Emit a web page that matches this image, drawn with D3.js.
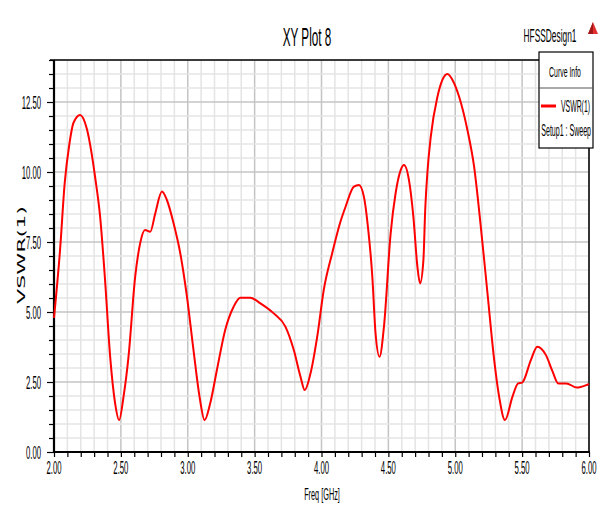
<!DOCTYPE html>
<html lang="en">
<head>
  <meta charset="UTF-8">
  <title>XY Plot 8</title>
  <script src="https://d3js.org/d3.v7.min.js"></script>
  <style>
    body { margin: 0; background: #fff; }
    svg text { font-family: "Liberation Sans", Arial, sans-serif; fill: #000; }
    .grid-minor { stroke: #e4e4e4; stroke-width: 1.5px; }
    .grid-major { stroke: #c4c4c4; stroke-width: 1.5px; }
    .curve { fill: none; stroke: #ff0000; stroke-width: 2px; }
  </style>
</head>
<body>
<div id="chart"></div>
<script>
  // VSWR(1) vs frequency
  var freq = [2.000, 2.045, 2.080, 2.115, 2.145, 2.195, 2.245, 2.280, 2.307, 2.345,
    2.380, 2.420, 2.457, 2.487, 2.520, 2.557, 2.607, 2.644, 2.680, 2.720,
    2.757, 2.807, 2.844, 2.894, 2.944, 2.994, 3.043, 3.088, 3.126, 3.168,
    3.218, 3.280, 3.343, 3.393, 3.468, 3.543, 3.643, 3.730, 3.793, 3.843,
    3.875, 3.918, 3.968, 4.017, 4.080, 4.142, 4.180, 4.242, 4.280, 4.317,
    4.347, 4.380, 4.404, 4.434, 4.467, 4.517, 4.554, 4.592, 4.617, 4.654,
    4.687, 4.717, 4.737, 4.762, 4.775, 4.792, 4.817, 4.867, 4.904, 4.942,
    4.979, 5.029, 5.091, 5.141, 5.191, 5.241, 5.291, 5.328, 5.372, 5.428,
    5.470, 5.500, 5.566, 5.613, 5.678, 5.728, 5.770, 5.830, 5.910, 5.980, 6.000];
  var vswr = [4.79, 7.20, 9.60, 11.00, 11.75, 12.04, 11.55, 10.70, 9.83, 8.40,
    6.26, 3.40, 1.74, 1.14, 1.98, 3.40, 6.26, 7.45, 7.93, 7.87,
    8.52, 9.30, 9.00, 8.17, 7.10, 5.55, 3.64, 1.98, 1.14, 1.74,
    2.93, 4.36, 5.19, 5.51, 5.51, 5.31, 4.95, 4.48, 3.64, 2.69,
    2.21, 2.81, 4.12, 5.79, 7.10, 8.23, 8.76, 9.48, 9.54, 9.12,
    8.05, 6.26, 4.24, 3.40, 4.48, 7.81, 9.24, 10.07, 10.25, 9.71,
    8.40, 6.62, 6.02, 6.86, 8.60, 10.00, 11.26, 12.69, 13.29, 13.50,
    13.29, 12.69, 11.50, 10.19, 8.05, 5.67, 3.29, 1.98, 1.14, 1.98,
    2.45, 2.48, 3.29, 3.76, 3.46, 2.87, 2.45, 2.45, 2.30, 2.39, 2.43];

  var xTicks = [2.0, 2.5, 3.0, 3.5, 4.0, 4.5, 5.0, 5.5, 6.0];
  var yTicks = [0, 2.5, 5, 7.5, 10, 12.5];
  var legendLines = ["VSWR(1)", "Setup1 : Sweep"];

  var W = 606, H = 505;
  var pLeft = 54, pRight = 589, pTop = 60, pBottom = 452;

  var svg = d3.select("#chart").append("svg")
    .attr("width", W)
    .attr("height", H);

  var x = d3.scaleLinear().domain([2, 6]).range([pLeft, pRight]);
  var y = d3.scaleLinear().domain([0, 14]).range([pBottom, pTop]);

  // minor / major grid
  var xMinor = d3.range(0, 41).map(function (i) { return 2 + i / 10; });
  var yMinor = d3.range(0, 29).map(function (i) { return i / 2; });
  var isMajor = function (v, step) { return Math.abs(v / step - Math.round(v / step)) < 1e-6; };

  var grid = svg.append("g");
  grid.selectAll(".gx").data(xMinor).enter().append("line")
    .attr("class", function (d) { return isMajor(d, 0.5) ? "grid-major" : "grid-minor"; })
    .attr("x1", function (d) { return x(d); }).attr("x2", function (d) { return x(d); })
    .attr("y1", pTop).attr("y2", pBottom);
  grid.selectAll(".gy").data(yMinor).enter().append("line")
    .attr("class", function (d) { return isMajor(d, 2.5) ? "grid-major" : "grid-minor"; })
    .attr("x1", pLeft).attr("x2", pRight)
    .attr("y1", function (d) { return y(d); }).attr("y2", function (d) { return y(d); });

  // axes (ticks only, labels drawn separately so they can be squeezed)
  svg.append("g")
    .attr("transform", "translate(0," + pBottom + ")")
    .call(d3.axisBottom(x).tickValues(xMinor).tickSize(5).tickFormat(""))
    .call(function (g) { g.select(".domain").remove(); g.selectAll("line").attr("stroke-width", 1.2); });
  svg.append("g")
    .attr("transform", "translate(" + pLeft + ",0)")
    .call(d3.axisLeft(y).tickValues(yMinor).tickSize(5).tickFormat(""))
    .call(function (g) {
      g.select(".domain").remove();
      g.selectAll("line").attr("stroke-width", 1.2)
        .attr("x2", function (d) { return isMajor(d, 2.5) ? -7 : -5; });
    });

  // frame
  svg.append("line").attr("x1", pLeft).attr("x2", pLeft).attr("y1", pTop).attr("y2", pBottom + 1)
    .attr("stroke", "#000").attr("stroke-width", 2.2);
  svg.append("line").attr("x1", pLeft - 1).attr("x2", pRight + 1).attr("y1", pBottom).attr("y2", pBottom)
    .attr("stroke", "#000").attr("stroke-width", 2.2);
  svg.append("line").attr("x1", 50).attr("x2", 539).attr("y1", pTop).attr("y2", pTop)
    .attr("stroke", "#000").attr("stroke-width", 1.5);
  svg.append("line").attr("x1", pRight).attr("x2", pRight).attr("y1", 148).attr("y2", pBottom)
    .attr("stroke", "#000").attr("stroke-width", 1.5);

  // squeezed text helper (the original uses a very narrow font)
  function label(tx, ty, str, size, sx, anchor) {
    return svg.append("text")
      .attr("transform", "translate(" + tx + "," + ty + ") scale(" + sx + ",1)")
      .attr("text-anchor", anchor || "middle")
      .style("font-size", size + "px")
      .text(str);
  }

  xTicks.forEach(function (d) { label(x(d), 474, d.toFixed(2), 18, 0.43); });
  yTicks.forEach(function (d) { label(41, y(d) + 7, d.toFixed(2), 18, 0.43, "end"); });

  // curve
  var pts = freq.map(function (f, i) { return [f, vswr[i]]; });
  var line = d3.line()
    .x(function (d) { return x(d[0]); })
    .y(function (d) { return y(d[1]); })
    .curve(d3.curveMonotoneX);
  svg.append("path").datum(pts).attr("class", "curve").attr("d", line);

  // titles
  label(307, 46, "XY Plot 8", 26, 0.45);
  label(550, 42, "HFSSDesign1", 19, 0.44);
  label(322, 500, "Freq [GHz]", 17, 0.43);

  svg.append("text")
    .attr("transform", "translate(25,255) rotate(-90)")
    .attr("text-anchor", "middle")
    .attr("textLength", 98)
    .attr("lengthAdjust", "spacingAndGlyphs")
    .style("font-family", "'DejaVu Sans', sans-serif")
    .style("font-size", "11px")
    .text("VSWR(1)");

  // logo triangle
  svg.append("path").attr("d", "M593,22 L598,34 L588,34 Z").attr("fill", "#e03030");
  svg.append("path").attr("d", "M593,22 L593,34 L588,34 Z").attr("fill", "#a01818");

  // legend box
  svg.append("rect").attr("x", 539).attr("y", 52).attr("width", 54).attr("height", 96)
    .attr("fill", "#fff").attr("stroke", "#000").attr("stroke-width", 1.2);
  svg.append("line").attr("x1", 539).attr("x2", 593).attr("y1", 88).attr("y2", 88)
    .attr("stroke", "#555").attr("stroke-width", 1);
  label(565, 77, "Curve Info", 15, 0.46);
  svg.append("line").attr("x1", 541).attr("x2", 556).attr("y1", 106).attr("y2", 106)
    .attr("stroke", "#ff0000").attr("stroke-width", 3);
  label(590, 112, legendLines[0], 16, 0.43, "end");
  label(591, 136, legendLines[1], 16, 0.44, "end");
</script>
</body>
</html>
